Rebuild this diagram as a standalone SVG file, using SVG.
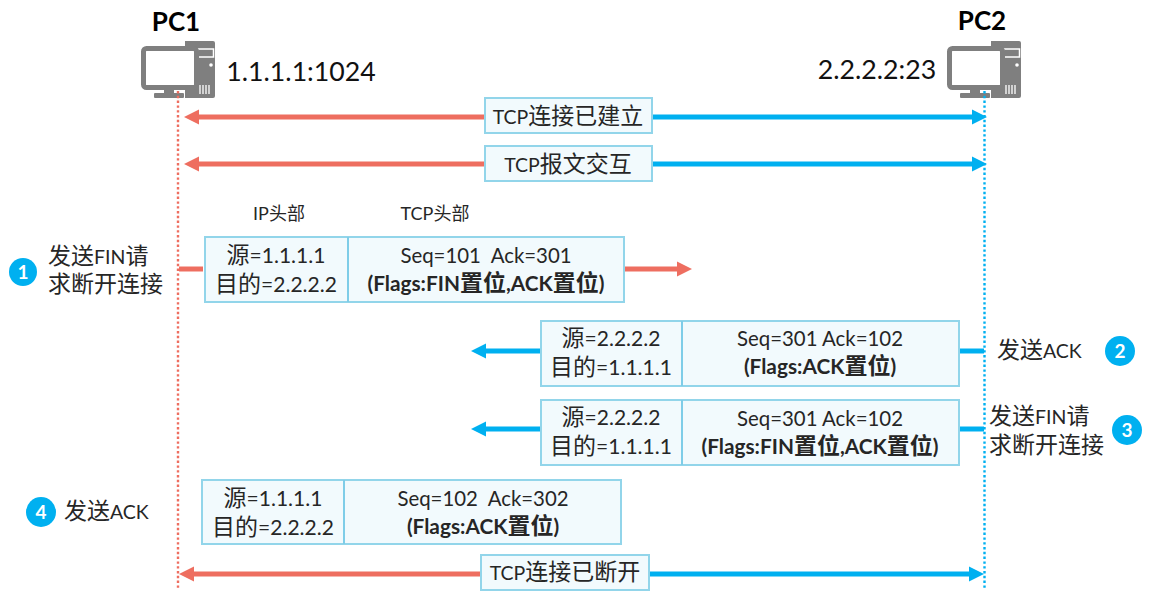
<svg xmlns="http://www.w3.org/2000/svg" width="1158" height="606" viewBox="0 0 1158 606">
<style>
text{font-family:Lato,"Noto Sans CJK SC",sans-serif;fill:#262626;text-anchor:middle}
.c{font-size:23px}
.t{font-size:19.5px}
.st{text-anchor:start}
.s{font-size:21px}
.q{font-size:20.4px}
.b{font-size:20.8px;font-weight:700}
.h{font-size:26px;font-weight:700;fill:#000}
.ip{font-size:26.7px;fill:#111}
.l{font-size:18px}
.box{fill:#f2fafd;stroke:#92d5ea;stroke-width:2}
.sep{stroke:#7fcde8;stroke-width:2}
.red{stroke:#ee6e60;stroke-width:5;fill:none}
.blue{stroke:#00b0f0;stroke-width:5;fill:none}
.n{fill:#fff;font-size:19px;font-weight:700}
.pc{fill:#7f7f7f}
</style>
<defs>
<marker id="ar" markerUnits="userSpaceOnUse" markerWidth="16" markerHeight="16" refX="3" refY="8" orient="auto"><path d="M0 0.5L15 8L0 15.5Z" fill="#ee6e60"/></marker>
<marker id="ab" markerUnits="userSpaceOnUse" markerWidth="16" markerHeight="16" refX="3" refY="8" orient="auto"><path d="M0 0.5L15 8L0 15.5Z" fill="#00b0f0"/></marker>
<g id="pcicon">
<path class="pc" d="M55 41h28a2 2 0 0 1 2 2v53a2 2 0 0 1-2 2h-28z"/>
<path d="M68 49h16v8h-16z" fill="none" stroke="#fff" stroke-width="1.5" transform="translate(-0.5,0)"/>
<circle cx="81" cy="65" r="1.8" fill="#fff"/>
<path d="M70 85v9M73 85v9M76 85v9M79 85v9" stroke="#fff" stroke-width="1.3"/>
<rect x="13.5" y="48.5" width="53" height="39" rx="3" fill="#fff" stroke="#7f7f7f" stroke-width="5"/>
<path class="pc" d="M34 90h10v4h-10z"/><rect class="pc" x="24" y="93" width="30" height="5" rx="1"/>
</g>
</defs>
<g id="pc1"><use href="#pcicon" x="130" y="0"/><text class="h" x="176" y="31">PC1</text><text class="ip" x="301" y="81">1.1.1.1:1024</text></g>
<g id="pc2"><use href="#pcicon" x="936" y="0"/><text class="h" x="982" y="30">PC2</text><text class="ip" x="877" y="79">2.2.2.2:23</text></g>
<g id="connectors">
<path d="M178 91V590" stroke="#ee6e60" stroke-width="2.4" stroke-dasharray="2.4 2.4" fill="none"/>
<path d="M984.5 91V590" stroke="#00b0f0" stroke-width="2.4" stroke-dasharray="2.4 2.4" fill="none"/>
<path class="red" marker-end="url(#ar)" d="M485 117H196"/>
<path class="blue" marker-end="url(#ab)" d="M652 117H975"/>
<path class="red" marker-end="url(#ar)" d="M485 164H196"/>
<path class="blue" marker-end="url(#ab)" d="M652 164H975"/>
<path class="red" d="M179 269H203"/>
<path class="red" marker-end="url(#ar)" d="M623 269H680"/>
<path class="blue" marker-end="url(#ab)" d="M540 351H483"/>
<path class="blue" d="M960 351H984"/>
<path class="blue" marker-end="url(#ab)" d="M540 429H483"/>
<path class="blue" d="M960 429H984"/>
<path class="red" marker-end="url(#ar)" d="M481 574H191"/>
<path class="blue" marker-end="url(#ab)" d="M649 574H972"/>
</g>
<g id="est"><rect class="box" x="485" y="98" width="167" height="35"/><text class="t" x="568" y="124">TCP<tspan class="c">连接已建立</tspan></text></g>
<g id="xchg"><rect class="box" x="485" y="146" width="167" height="35"/><text class="t" x="568" y="172">TCP<tspan class="c">报文交互</tspan></text></g>
<g id="hdr"><text class="l" x="279" y="220">IP头部</text><text class="l" x="435" y="220">TCP头部</text></g>
<g id="m1"><rect class="box" x="205" y="237" width="419" height="65"/><path class="sep" d="M348 237V302"/>
<text class="s" x="276" y="263"><tspan class="c">源</tspan>=1.1.1.1</text><text class="s" x="276" y="292"><tspan class="c">目的</tspan>=2.2.2.2</text>
<text class="q" x="486" y="263" xml:space="preserve">Seq=101  Ack=301</text><text class="b" x="486" y="291">(Flags:FIN<tspan class="c">置位</tspan>,ACK<tspan class="c">置位</tspan>)</text></g>
<g id="m2"><rect class="box" x="541" y="321" width="418" height="65"/><path class="sep" d="M682 321V386"/>
<text class="s" x="611" y="346"><tspan class="c">源</tspan>=2.2.2.2</text><text class="s" x="611" y="375"><tspan class="c">目的</tspan>=1.1.1.1</text>
<text class="q" x="820" y="346">Seq=301 Ack=102</text><text class="b" x="820" y="374">(Flags:ACK<tspan class="c">置位</tspan>)</text></g>
<g id="m3"><rect class="box" x="541" y="400" width="418" height="65"/><path class="sep" d="M682 400V465"/>
<text class="s" x="611" y="425"><tspan class="c">源</tspan>=2.2.2.2</text><text class="s" x="611" y="454"><tspan class="c">目的</tspan>=1.1.1.1</text>
<text class="q" x="820" y="426">Seq=301 Ack=102</text><text class="b" x="820" y="454">(Flags:FIN<tspan class="c">置位</tspan>,ACK<tspan class="c">置位</tspan>)</text></g>
<g id="m4"><rect class="box" x="202" y="480" width="419" height="64"/><path class="sep" d="M344 480V544"/>
<text class="s" x="273" y="506"><tspan class="c">源</tspan>=1.1.1.1</text><text class="s" x="273" y="535"><tspan class="c">目的</tspan>=2.2.2.2</text>
<text class="q" x="483" y="506" xml:space="preserve">Seq=102  Ack=302</text><text class="b" x="483" y="534">(Flags:ACK<tspan class="c">置位</tspan>)</text></g>
<g id="closed"><rect class="box" x="481" y="555" width="168" height="35"/><text class="t" x="565" y="580">TCP<tspan class="c">连接已断开</tspan></text></g>
<g id="s1"><circle cx="23" cy="272" r="14" fill="#00b0f0"/><text class="n" x="23" y="279">1</text><text class="t st" x="48" y="264"><tspan class="c">发送</tspan>FIN<tspan class="c">请</tspan></text><text class="c st" x="48" y="292">求断开连接</text></g>
<g id="s2"><circle cx="1120" cy="351" r="15" fill="#00b0f0"/><text class="n" x="1120" y="358">2</text><text class="t st" x="997" y="358"><tspan class="c">发送</tspan>ACK</text></g>
<g id="s3"><circle cx="1127" cy="430" r="15" fill="#00b0f0"/><text class="n" x="1127" y="437">3</text><text class="t st" x="989" y="424"><tspan class="c">发送</tspan>FIN<tspan class="c">请</tspan></text><text class="c st" x="989" y="453">求断开连接</text></g>
<g id="s4"><circle cx="41" cy="512" r="15" fill="#00b0f0"/><text class="n" x="41" y="519">4</text><text class="t st" x="64" y="519"><tspan class="c">发送</tspan>ACK</text></g>
</svg>
